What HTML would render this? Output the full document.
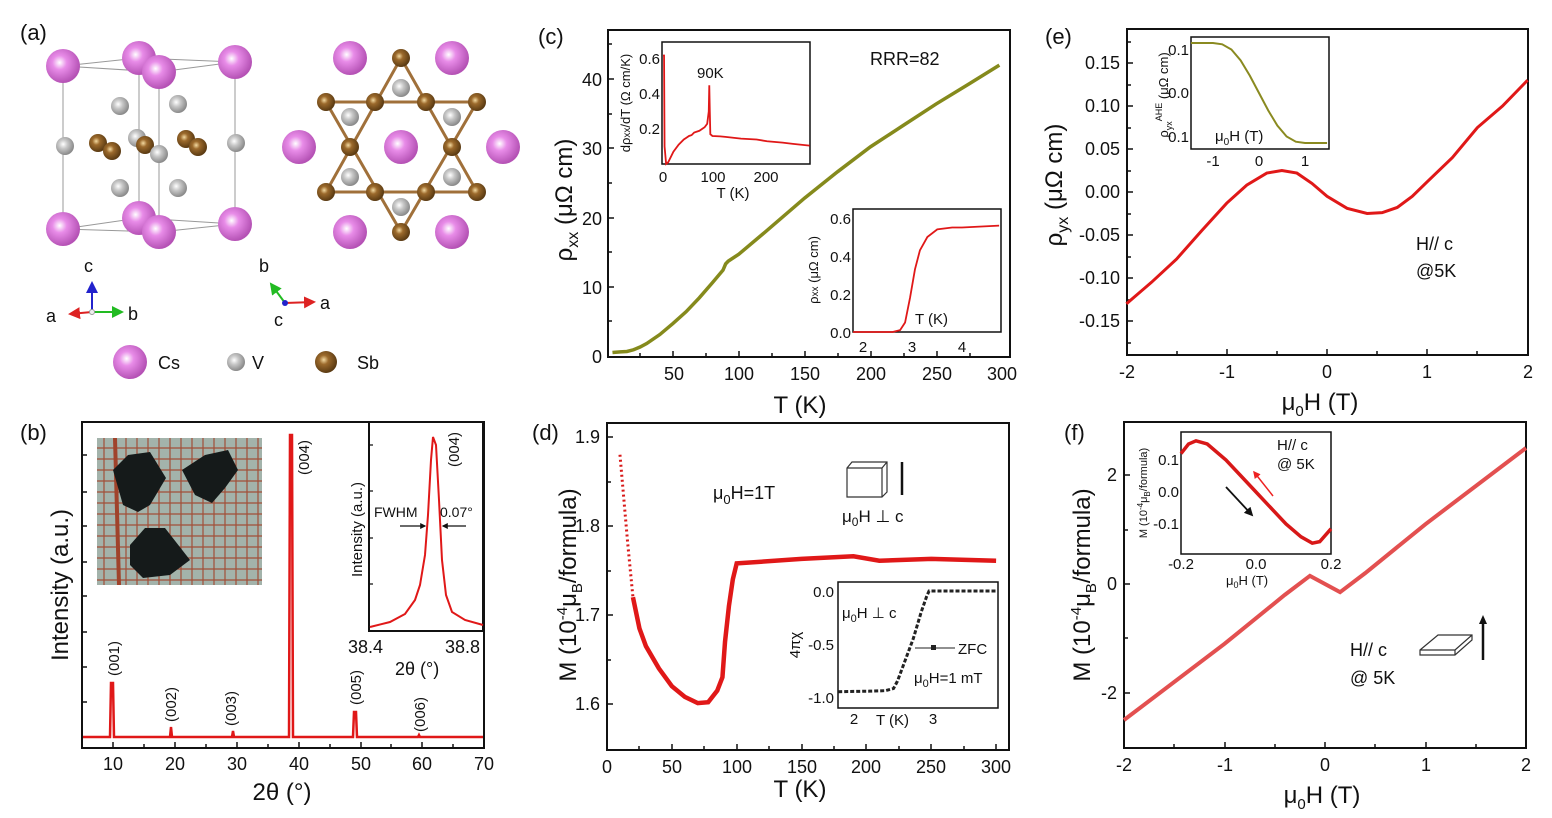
<!DOCTYPE html>
<html><head><meta charset="utf-8"><style>
html,body{margin:0;padding:0;background:#fff}
svg{display:block}
text{font-family:"Liberation Sans",Arial,sans-serif;fill:#111}
.t{font-size:18px}
.s{font-size:15px}
.x{font-size:13px}
.ax{font-size:24px}
.p{font-size:22px}
</style></head><body>
<svg width="1552" height="818" viewBox="0 0 1552 818" xmlns="http://www.w3.org/2000/svg">
<defs>
<radialGradient id="cs" cx="40%" cy="40%" r="60%"><stop offset="0" stop-color="#fff"/><stop offset="0.35" stop-color="#e88ce8"/><stop offset="1" stop-color="#b552b5"/></radialGradient>
<radialGradient id="v" cx="40%" cy="40%" r="60%"><stop offset="0" stop-color="#fff"/><stop offset="0.4" stop-color="#c8c8c8"/><stop offset="1" stop-color="#8a8a8a"/></radialGradient>
<radialGradient id="sb" cx="40%" cy="40%" r="60%"><stop offset="0" stop-color="#f3d9a0"/><stop offset="0.35" stop-color="#9c6a2c"/><stop offset="1" stop-color="#5a3a12"/></radialGradient>
<marker id="ar" markerWidth="6" markerHeight="6" refX="5" refY="3" orient="auto"><path d="M0,0 L6,3 L0,6z" fill="#d22"/></marker>
<marker id="ag" markerWidth="6" markerHeight="6" refX="5" refY="3" orient="auto"><path d="M0,0 L6,3 L0,6z" fill="#2b2"/></marker>
<marker id="ab" markerWidth="6" markerHeight="6" refX="5" refY="3" orient="auto"><path d="M0,0 L6,3 L0,6z" fill="#22c"/></marker>
<marker id="ak" markerWidth="5" markerHeight="5" refX="4" refY="2.5" orient="auto"><path d="M0,0 L5,2.5 L0,5z" fill="#111"/></marker>
<marker id="ar2" markerWidth="5" markerHeight="5" refX="4" refY="2.5" orient="auto"><path d="M0,0 L5,2.5 L0,5z" fill="#e22"/></marker>
</defs>

<!-- ===== (a) ===== -->
<text x="20" y="40" class="p">(a)</text>
<g stroke="#999" stroke-width="1" fill="none">
<path d="M63,66 L139,58 L235,62 L159,72 Z M63,229 L139,218 L235,224 L159,232 Z M63,66 L63,229 M139,58 L139,218 M235,62 L235,224 M159,72 L159,232"/>
</g>
<g>
<circle cx="139" cy="58" r="17" fill="url(#cs)"/>
<circle cx="139" cy="218" r="17" fill="url(#cs)"/>
<circle cx="120" cy="106" r="9" fill="url(#v)"/><circle cx="178" cy="104" r="9" fill="url(#v)"/>
<circle cx="65" cy="146" r="9" fill="url(#v)"/><circle cx="236" cy="143" r="9" fill="url(#v)"/>
<circle cx="137" cy="138" r="9" fill="url(#v)"/>
<circle cx="120" cy="188" r="9" fill="url(#v)"/><circle cx="178" cy="188" r="9" fill="url(#v)"/>
<circle cx="98" cy="143" r="9" fill="url(#sb)"/><circle cx="112" cy="151" r="9" fill="url(#sb)"/>
<circle cx="145" cy="145" r="9" fill="url(#sb)"/><circle cx="159" cy="154" r="9" fill="url(#v)"/>
<circle cx="186" cy="139" r="9" fill="url(#sb)"/><circle cx="198" cy="147" r="9" fill="url(#sb)"/>
<circle cx="63" cy="66" r="17" fill="url(#cs)"/><circle cx="235" cy="62" r="17" fill="url(#cs)"/>
<circle cx="159" cy="72" r="17" fill="url(#cs)"/>
<circle cx="63" cy="229" r="17" fill="url(#cs)"/><circle cx="235" cy="224" r="17" fill="url(#cs)"/>
<circle cx="159" cy="232" r="17" fill="url(#cs)"/>
</g>
<g stroke="#a0703a" stroke-width="3" fill="none">
<path d="M401,58 L326,192 L477,192 Z M326,102 L477,102 L401,232 Z"/>
</g>
<g>
<circle cx="350" cy="58" r="17" fill="url(#cs)"/><circle cx="452" cy="58" r="17" fill="url(#cs)"/>
<circle cx="299" cy="147" r="17" fill="url(#cs)"/><circle cx="401" cy="147" r="17" fill="url(#cs)"/><circle cx="503" cy="147" r="17" fill="url(#cs)"/>
<circle cx="350" cy="232" r="17" fill="url(#cs)"/><circle cx="452" cy="232" r="17" fill="url(#cs)"/>
<circle cx="401" cy="88" r="9" fill="url(#v)"/><circle cx="350" cy="117" r="9" fill="url(#v)"/><circle cx="452" cy="117" r="9" fill="url(#v)"/>
<circle cx="350" cy="177" r="9" fill="url(#v)"/><circle cx="452" cy="177" r="9" fill="url(#v)"/><circle cx="401" cy="207" r="9" fill="url(#v)"/>
<circle cx="401" cy="58" r="9" fill="url(#sb)"/><circle cx="326" cy="102" r="9" fill="url(#sb)"/><circle cx="375" cy="102" r="9" fill="url(#sb)"/>
<circle cx="426" cy="102" r="9" fill="url(#sb)"/><circle cx="477" cy="102" r="9" fill="url(#sb)"/>
<circle cx="350" cy="147" r="9" fill="url(#sb)"/><circle cx="452" cy="147" r="9" fill="url(#sb)"/>
<circle cx="326" cy="192" r="9" fill="url(#sb)"/><circle cx="375" cy="192" r="9" fill="url(#sb)"/>
<circle cx="426" cy="192" r="9" fill="url(#sb)"/><circle cx="477" cy="192" r="9" fill="url(#sb)"/>
<circle cx="401" cy="232" r="9" fill="url(#sb)"/>
</g>
<line x1="92" y1="312" x2="92" y2="283" stroke="#22c" stroke-width="2" marker-end="url(#ab)"/>
<line x1="92" y1="312" x2="70" y2="314" stroke="#d22" stroke-width="2" marker-end="url(#ar)"/>
<line x1="92" y1="312" x2="122" y2="312" stroke="#2b2" stroke-width="2" marker-end="url(#ag)"/>
<circle cx="92" cy="312" r="2.5" fill="#eee" stroke="#999"/>
<text x="84" y="272" class="t">c</text><text x="46" y="322" class="t">a</text><text x="128" y="320" class="t">b</text>
<line x1="285" y1="303" x2="271" y2="284" stroke="#2b2" stroke-width="2" marker-end="url(#ag)"/>
<line x1="285" y1="303" x2="314" y2="302" stroke="#d22" stroke-width="2" marker-end="url(#ar)"/>
<circle cx="285" cy="303" r="3" fill="#22c"/>
<text x="259" y="272" class="t">b</text><text x="320" y="309" class="t">a</text><text x="274" y="326" class="t">c</text>
<circle cx="130" cy="362" r="17" fill="url(#cs)"/><text x="158" y="369" class="t">Cs</text>
<circle cx="236" cy="362" r="9" fill="url(#v)"/><text x="252" y="369" class="t">V</text>
<circle cx="326" cy="362" r="11" fill="url(#sb)"/><text x="357" y="369" class="t">Sb</text>

<!-- ===== (b) ===== -->
<text x="20" y="440" class="p">(b)</text>
<rect x="82" y="422" width="402" height="326" fill="none" stroke="#111" stroke-width="2"/>
<g stroke="#111" stroke-width="1.5">
<path d="M113,748v-6 M144,748v-4 M175,748v-6 M206,748v-4 M237,748v-6 M268,748v-4 M299,748v-6 M330,748v-4 M361,748v-6 M391,748v-4 M422,748v-6 M453,748v-4"/>
<path d="M82,455h5 M82,492h5 M82,526h5 M82,562h5 M82,596h5 M82,632h5 M82,667h5 M82,702h5"/>
</g>
<g class="t" text-anchor="middle"><text x="113" y="770">10</text><text x="175" y="770">20</text><text x="237" y="770">30</text><text x="299" y="770">40</text><text x="361" y="770">50</text><text x="422" y="770">60</text><text x="484" y="770">70</text></g>
<text x="282" y="800" class="ax" text-anchor="middle">2θ  (°)</text>
<text transform="translate(68,585) rotate(-90)" class="ax" text-anchor="middle">Intensity (a.u.)</text>
<path d="M83,737 L110,737 L111,683 L113,683 L114,737 L170,737 L171,727 L172,737 L232,737 L233,731 L234,737 L289,737 L290,435 L292,435 L293,737 L353,737 L354,712 L356,712 L357,737 L418,737 L419,735 L420,737 L483,737" fill="none" stroke="#e01818" stroke-width="2.5"/>
<g class="s" font-size="16"><text transform="translate(119,676) rotate(-90)">(001)</text><text transform="translate(176,722) rotate(-90)">(002)</text><text transform="translate(236,726) rotate(-90)">(003)</text><text transform="translate(309,475) rotate(-90)">(004)</text><text transform="translate(361,705) rotate(-90)">(005)</text><text transform="translate(425,732) rotate(-90)">(006)</text></g>
<rect x="97" y="438" width="165" height="147" fill="#a3b3ab"/>
<g stroke="#a24f38" stroke-width="1.2">
<path d="M97,448H262M97,459H262M97,470H262M97,481H262M97,492H262M97,503H262M97,514H262M97,525H262M97,536H262M97,547H262M97,558H262M97,569H262M97,580H262"/>
<path d="M104,438V585M126,438V585M137,438V585M148,438V585M159,438V585M170,438V585M181,438V585M192,438V585M203,438V585M214,438V585M225,438V585M236,438V585M247,438V585M258,438V585"/>
</g>
<line x1="115" y1="438" x2="119" y2="585" stroke="#a0432b" stroke-width="4"/>
<path d="M113,470 L128,455 L150,452 L166,478 L150,505 L138,512 L123,505 Z" fill="#151a1a"/>
<path d="M182,470 L205,455 L228,450 L238,470 L225,488 L212,503 L195,495 Z" fill="#151a1a"/>
<path d="M130,545 L145,528 L165,528 L190,560 L170,575 L143,578 L130,565 Z" fill="#151a1a"/>
<rect x="369" y="422" width="114" height="209" fill="#fff" stroke="#111" stroke-width="2"/>
<g stroke="#111" stroke-width="1.2"><path d="M369,445h4 M369,491h4 M369,538h4 M369,584h4"/></g>
<path d="M370,627 L390,622 L405,614 L415,600 L420,585 L425,555 L428,515 L431,460 L433,437 L436,445 L439,500 L442,560 L446,595 L452,612 L465,620 L483,625" fill="none" stroke="#e01818" stroke-width="2"/>
<text transform="translate(362,577) rotate(-90)" font-size="15">Intensity (a.u.)</text>
<text transform="translate(459,467) rotate(-90)" class="s" font-size="15">(004)</text>
<text x="374" y="517" font-size="14">FWHM</text><text x="440" y="517" font-size="14">0.07°</text>
<line x1="400" y1="526" x2="425" y2="526" stroke="#111" stroke-width="1.2" marker-end="url(#ak)"/>
<line x1="466" y1="526" x2="443" y2="526" stroke="#111" stroke-width="1.2" marker-end="url(#ak)"/>
<text x="348" y="653" class="t">38.4</text><text x="445" y="653" class="t">38.8</text>
<text x="395" y="675" class="t">2θ  (°)</text>

<!-- ===== (c) ===== -->
<text x="538" y="44" class="p">(c)</text>
<rect x="608" y="30" width="402" height="327" fill="none" stroke="#111" stroke-width="2"/>
<g stroke="#111" stroke-width="1.5">
<path d="M640,357v-4 M673,357v-6 M706,357v-4 M739,357v-6 M772,357v-4 M805,357v-6 M838,357v-4 M871,357v-6 M904,357v-4 M937,357v-6 M970,357v-4"/>
<path d="M608,321h4 M608,287h6 M608,252h4 M608,218h6 M608,183h4 M608,148h6 M608,114h4 M608,79h6 M608,44h4"/>
</g>
<g class="t" text-anchor="end"><text x="602" y="363">0</text><text x="602" y="294">10</text><text x="602" y="225">20</text><text x="602" y="155">30</text><text x="602" y="86">40</text></g>
<g class="t" text-anchor="middle"><text x="674" y="380">50</text><text x="739" y="380">100</text><text x="805" y="380">150</text><text x="871" y="380">200</text><text x="937" y="380">250</text><text x="1002" y="380">300</text></g>
<text x="800" y="413" class="ax" text-anchor="middle">T (K)</text>
<text transform="translate(572,200) rotate(-90)" class="ax" text-anchor="middle">ρ<tspan font-size="16" dy="6">xx</tspan><tspan dy="-6"> (μΩ cm)</tspan></text>
<polyline transform="matrix(1.316 0 0 -6.925 607.2 356)" vector-effect="non-scaling-stroke" fill="none" stroke="#858a1c" stroke-width="3.5" points="4,0.5 10,0.6 15,0.65 20,0.9 25,1.3 30,1.8 40,3.1 50,4.7 60,6.4 70,8.4 80,10.6 88,12.4 90,13.3 92,13.7 100,14.7 120,17.9 150,22.8 175,26.6 200,30.2 225,33.3 250,36.4 275,39.3 298,42"/>
<text x="870" y="65" class="t">RRR=82</text>
<rect x="662" y="42" width="148" height="122" fill="#fff" stroke="#111" stroke-width="1.5"/>
<polyline transform="matrix(0.52 0 0 -175 663 164)" vector-effect="non-scaling-stroke" fill="none" stroke="#e01818" stroke-width="1.8" points="0,0.62 2,0.62 3,0.1 6,0.0 10,0.01 20,0.07 30,0.11 40,0.14 45,0.15 50,0.16 55,0.165 60,0.18 70,0.19 80,0.21 85,0.23 88,0.3 89,0.45 90,0.3 91,0.17 95,0.16 110,0.158 120,0.155 150,0.145 180,0.14 200,0.13 230,0.122 250,0.115 282,0.105"/>
<g class="s" text-anchor="end"><text x="660" y="64">0.6</text><text x="660" y="99">0.4</text><text x="660" y="134">0.2</text></g>
<g class="s" text-anchor="middle"><text x="663" y="182">0</text><text x="713" y="182">100</text><text x="766" y="182">200</text></g>
<text x="733" y="198" class="s" text-anchor="middle">T (K)</text>
<text transform="translate(630,103) rotate(-90)" class="x" text-anchor="middle">dρ<tspan font-size="10">xx</tspan>/dT (Ω cm/K)</text>
<text x="697" y="78" class="s">90K</text>
<rect x="853" y="209" width="148" height="123" fill="#fff" stroke="#111" stroke-width="1.5"/>
<polyline transform="matrix(49.5 0 0 -190 764 332)" vector-effect="non-scaling-stroke" fill="none" stroke="#e01818" stroke-width="1.8" points="1.8,0 2.6,0 2.75,0.01 2.85,0.05 2.95,0.18 3.05,0.33 3.15,0.43 3.3,0.5 3.5,0.54 3.8,0.55 4.0,0.55 4.75,0.56"/>
<g class="s" text-anchor="end"><text x="851" y="224">0.6</text><text x="851" y="262">0.4</text><text x="851" y="300">0.2</text><text x="851" y="338">0.0</text></g>
<g class="s" text-anchor="middle"><text x="863" y="352">2</text><text x="912" y="352">3</text><text x="962" y="352">4</text></g>
<text x="915" y="324" class="s">T (K)</text>
<text transform="translate(818,270) rotate(-90)" class="x" font-size="14" text-anchor="middle">ρ<tspan font-size="10">xx</tspan> (μΩ cm)</text>

<!-- ===== (d) ===== -->
<text x="532" y="440" class="p">(d)</text>
<rect x="607" y="423" width="402" height="327" fill="none" stroke="#111" stroke-width="2"/>
<g stroke="#111" stroke-width="1.5">
<path d="M639,750v-4 M672,750v-6 M704,750v-4 M737,750v-6 M769,750v-4 M802,750v-6 M834,750v-4 M866,750v-6 M899,750v-4 M931,750v-6 M964,750v-4 M996,750v-6"/>
<path d="M607,437h6 M607,482h4 M607,526h6 M607,571h4 M607,615h6 M607,660h4 M607,704h6"/>
</g>
<g class="t" text-anchor="end"><text x="600" y="443">1.9</text><text x="600" y="532">1.8</text><text x="600" y="621">1.7</text><text x="600" y="710">1.6</text></g>
<g class="t" text-anchor="middle"><text x="607" y="773">0</text><text x="672" y="773">50</text><text x="737" y="773">100</text><text x="802" y="773">150</text><text x="866" y="773">200</text><text x="931" y="773">250</text><text x="996" y="773">300</text></g>
<text x="800" y="797" class="ax" text-anchor="middle">T (K)</text>
<text transform="translate(576,585) rotate(-90)" class="ax" text-anchor="middle">M (10<tspan font-size="15" dy="-9">-4</tspan><tspan dy="9">μ</tspan><tspan font-size="15" dy="6">B</tspan><tspan dy="-6">/formula)</tspan></text>
<polyline transform="matrix(1.297 0 0 -890 607 2128)" vector-effect="non-scaling-stroke" fill="none" stroke="#d81818" stroke-width="3" stroke-dasharray="2 3" points="10,1.88 13,1.83 16,1.78 20,1.72"/>
<polyline transform="matrix(1.297 0 0 -890 607 2128)" vector-effect="non-scaling-stroke" fill="none" stroke="#e01818" stroke-width="4.5" points="20,1.72 25,1.685 30,1.665 40,1.64 50,1.62 60,1.608 70,1.601 78,1.602 85,1.615 89,1.63 91,1.67 94,1.71 97,1.74 100,1.758 150,1.763 190,1.766 210,1.761 250,1.763 300,1.761"/>
<text x="713" y="499" class="t">μ<tspan font-size="13" dy="5">0</tspan><tspan dy="-5">H=1T</tspan></text>
<path d="M847,468 L852,462 L887,462 L887,492 L882,497 L847,497 Z M847,468 L882,468 L882,497 M882,468 L887,462" fill="#fff" stroke="#333" stroke-width="1.2"/>
<line x1="902" y1="495" x2="902" y2="462" stroke="#111" stroke-width="2.5"/>
<text x="842" y="522" font-size="17">μ<tspan font-size="12" dy="4">0</tspan><tspan dy="-4">H ⊥ c</tspan></text>
<rect x="838" y="582" width="160" height="126" fill="#fff" stroke="#111" stroke-width="1.5"/>
<polyline transform="matrix(79 0 0 -106 696 591)" vector-effect="non-scaling-stroke" fill="none" stroke="#222" stroke-width="3" stroke-dasharray="4 2" points="1.8,-0.95 2.2,-0.945 2.4,-0.94 2.5,-0.92 2.55,-0.85 2.65,-0.65 2.75,-0.45 2.85,-0.2 2.92,-0.05 2.95,0.0 3.3,0.0 3.8,0.0"/>
<g class="s" text-anchor="end"><text x="834" y="597">0.0</text><text x="834" y="650">-0.5</text><text x="834" y="703">-1.0</text></g>
<g class="s" text-anchor="middle"><text x="854" y="724">2</text><text x="933" y="724">3</text></g>
<text x="876" y="725" class="s">T (K)</text>
<text transform="translate(800,645) rotate(-90)" class="s" text-anchor="middle">4πχ</text>
<text x="842" y="618" class="s">μ<tspan font-size="11" dy="4">0</tspan><tspan dy="-4">H ⊥ c</tspan></text>
<line x1="915" y1="648" x2="955" y2="648" stroke="#222" stroke-width="1"/><rect x="931" y="645" width="5" height="5" fill="#222"/>
<text x="958" y="654" class="s">ZFC</text>
<text x="914" y="683" class="s">μ<tspan font-size="11" dy="4">0</tspan><tspan dy="-4">H=1 mT</tspan></text>

<!-- ===== (e) ===== -->
<text x="1045" y="44" class="p">(e)</text>
<rect x="1127" y="29" width="401" height="326" fill="none" stroke="#111" stroke-width="2"/>
<g stroke="#111" stroke-width="1.5">
<path d="M1177,355v-4 M1227,355v-6 M1277,355v-4 M1327,355v-6 M1377,355v-4 M1427,355v-6 M1477,355v-4"/>
<path d="M1127,63h6 M1127,106h6 M1127,149h6 M1127,192h6 M1127,235h6 M1127,278h6 M1127,321h6 M1127,42h4 M1127,85h4 M1127,128h4 M1127,171h4 M1127,214h4 M1127,257h4 M1127,300h4 M1127,343h4"/>
</g>
<g class="t" text-anchor="end"><text x="1120" y="69">0.15</text><text x="1120" y="112">0.10</text><text x="1120" y="155">0.05</text><text x="1120" y="198">0.00</text><text x="1120" y="241">-0.05</text><text x="1120" y="284">-0.10</text><text x="1120" y="327">-0.15</text></g>
<g class="t" text-anchor="middle"><text x="1127" y="378">-2</text><text x="1227" y="378">-1</text><text x="1327" y="378">0</text><text x="1427" y="378">1</text><text x="1528" y="378">2</text></g>
<text x="1320" y="410" class="ax" text-anchor="middle">μ<tspan font-size="15" dy="6">0</tspan><tspan dy="-6">H (T)</tspan></text>
<text transform="translate(1062,185) rotate(-90)" class="ax" text-anchor="middle">ρ<tspan font-size="16" dy="6">yx</tspan><tspan dy="-6"> (μΩ cm)</tspan></text>
<polyline transform="matrix(100.3 0 0 -860 1327 192)" vector-effect="non-scaling-stroke" fill="none" stroke="#e01818" stroke-width="3" points="-2,-0.13 -1.75,-0.105 -1.5,-0.078 -1.25,-0.045 -1,-0.013 -0.8,0.008 -0.6,0.022 -0.45,0.025 -0.3,0.022 -0.15,0.01 0,-0.005 0.2,-0.019 0.4,-0.025 0.55,-0.024 0.7,-0.018 0.85,-0.005 1,0.012 1.25,0.04 1.5,0.075 1.75,0.1 2,0.13"/>
<text x="1416" y="250" class="t">H// c</text><text x="1416" y="277" class="t">@5K</text>
<rect x="1191" y="37" width="138" height="112" fill="#fff" stroke="#111" stroke-width="1.5"/>
<polyline transform="matrix(46 0 0 -435 1259 93)" vector-effect="non-scaling-stroke" fill="none" stroke="#8a8a20" stroke-width="2" points="-1.48,0.115 -1,0.115 -0.8,0.112 -0.6,0.1 -0.4,0.075 -0.2,0.04 0,0.0 0.2,-0.04 0.4,-0.075 0.6,-0.1 0.8,-0.112 1,-0.115 1.48,-0.115"/>
<g class="s" text-anchor="end"><text x="1189" y="55">0.1</text><text x="1189" y="98">0.0</text><text x="1189" y="142">0.1</text></g>
<g class="s" text-anchor="middle"><text x="1213" y="166">-1</text><text x="1259" y="166">0</text><text x="1305" y="166">1</text></g>
<text x="1215" y="141" class="s">μ<tspan font-size="10" dy="4">0</tspan><tspan dy="-4">H (T)</tspan></text>
<text transform="translate(1168,95) rotate(-90)" class="x" text-anchor="middle">ρ<tspan font-size="9" dy="4">yx</tspan><tspan font-size="9" dy="-10">AHE</tspan><tspan dy="6"> (μΩ cm)</tspan></text>

<!-- ===== (f) ===== -->
<text x="1064" y="440" class="p">(f)</text>
<rect x="1124" y="422" width="402" height="326" fill="none" stroke="#111" stroke-width="2"/>
<g stroke="#111" stroke-width="1.5">
<path d="M1174,748v-4 M1225,748v-6 M1275,748v-4 M1325,748v-6 M1375,748v-4 M1426,748v-6 M1476,748v-4"/>
<path d="M1124,475h6 M1124,530h4 M1124,584h6 M1124,638h4 M1124,693h6"/>
</g>
<g class="t" text-anchor="end"><text x="1117" y="481">2</text><text x="1117" y="590">0</text><text x="1117" y="699">-2</text></g>
<g class="t" text-anchor="middle"><text x="1124" y="771">-2</text><text x="1225" y="771">-1</text><text x="1325" y="771">0</text><text x="1426" y="771">1</text><text x="1526" y="771">2</text></g>
<text x="1322" y="803" class="ax" text-anchor="middle">μ<tspan font-size="15" dy="6">0</tspan><tspan dy="-6">H (T)</tspan></text>
<text transform="translate(1090,585) rotate(-90)" class="ax" text-anchor="middle">M (10<tspan font-size="15" dy="-9">-4</tspan><tspan dy="9">μ</tspan><tspan font-size="15" dy="6">B</tspan><tspan dy="-6">/formula)</tspan></text>
<polyline transform="matrix(100.5 0 0 -54.4 1325 584)" vector-effect="non-scaling-stroke" fill="none" stroke="#e35050" stroke-width="4" points="-2,-2.5 -1,-1.1 -0.4,-0.2 -0.15,0.15 0.15,-0.15 0.4,0.2 1,1.1 2,2.5"/>
<text x="1350" y="656" class="t">H// c</text><text x="1350" y="684" class="t">@ 5K</text>
<path d="M1420,650 L1438,635 L1472,635 L1472,640 L1455,655 L1420,655 Z M1420,650 L1455,650 L1472,635 M1455,650 L1455,655" fill="#fff" stroke="#333" stroke-width="1.2"/>
<line x1="1483" y1="660" x2="1483" y2="620" stroke="#111" stroke-width="2.5"/>
<polygon points="1479,624 1483,615 1487,624" fill="#111"/>
<rect x="1181" y="432" width="150" height="122" fill="#fff" stroke="#111" stroke-width="1.5"/>
<polyline transform="matrix(375 0 0 -320 1256 492)" vector-effect="non-scaling-stroke" fill="none" stroke="#d81818" stroke-width="3.5" points="-0.2,0.12 -0.18,0.15 -0.16,0.16 -0.13,0.15 -0.08,0.1 -0.04,0.05 0,0.0 0.04,-0.05 0.08,-0.1 0.12,-0.14 0.15,-0.16 0.17,-0.155 0.2,-0.115"/>
<line x1="1273" y1="496" x2="1254" y2="472" stroke="#e22" stroke-width="1.5" marker-end="url(#ar2)"/>
<line x1="1226" y1="487" x2="1252" y2="515" stroke="#111" stroke-width="1.8" marker-end="url(#ak)"/>
<g class="s" text-anchor="end"><text x="1179" y="465">0.1</text><text x="1179" y="497">0.0</text><text x="1179" y="529">-0.1</text></g>
<g class="s" text-anchor="middle"><text x="1181" y="569">-0.2</text><text x="1256" y="569">0.0</text><text x="1331" y="569">0.2</text></g>
<text x="1226" y="585" class="x">μ<tspan font-size="9" dy="3">0</tspan><tspan dy="-3">H (T)</tspan></text>
<text transform="translate(1147,493) rotate(-90)" font-size="11" text-anchor="middle">M (10<tspan font-size="8" dy="-4">-4</tspan><tspan dy="4">μ</tspan><tspan font-size="8" dy="3">B</tspan><tspan dy="-3">/formula)</tspan></text>
<text x="1277" y="450" class="s">H// c</text><text x="1277" y="469" class="s">@ 5K</text>
</svg>
</body></html>
